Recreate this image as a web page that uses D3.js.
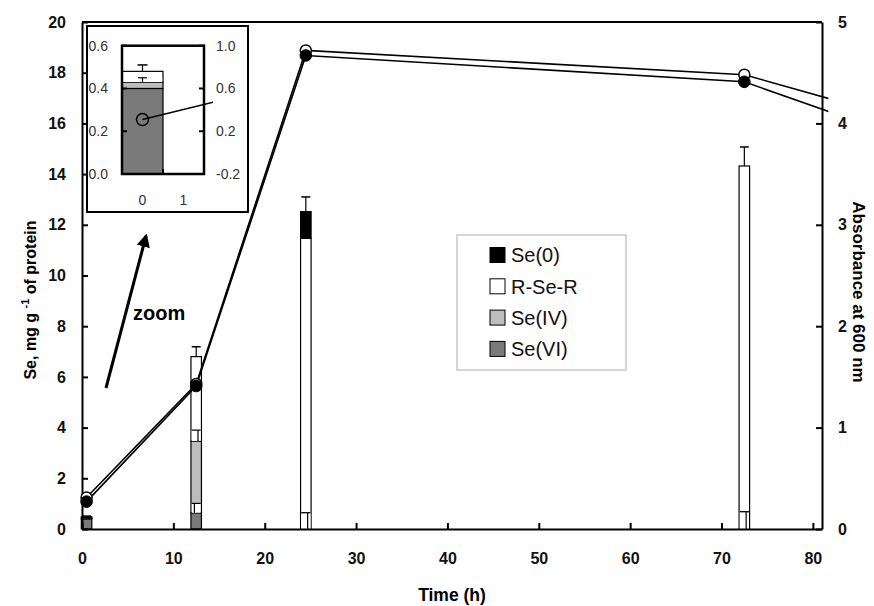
<!DOCTYPE html>
<html><head><meta charset="utf-8">
<script src="https://cdn.jsdelivr.net/npm/d3@7"></script>
<style>
body{margin:0;background:#fff}
svg text{font-family:"Liberation Sans",Arial,sans-serif}
</style></head>
<body><svg id="c" width="874" height="606"></svg>
<script>
// ---- data ----
const times = [0, 12, 24, 72];
const seVI  = [0.40, 0.64, 0.00, 0.00];
const seIV  = [0.03, 2.83, 0.00, 0.00];
const rseR  = [0.05, 3.33, 11.47, 14.32];
const se0   = [0.00, 0.00, 1.05, 0.00];
const errVI = [0.00, 0.37, 0.64, 0.68];
const errIV = [0.02, 0.43, 0.64, 0.68];
const errTop = [0.03, 0.39, 0.58, 0.75];
const absTimes  = [0, 12, 24, 72, 96];
const absOpen   = [0.31, 1.43, 4.72, 4.48, 3.87];
const absFilled = [0.27, 1.41, 4.67, 4.41, 3.65];
const xTicks = [0, 10, 20, 30, 40, 50, 60, 70, 80];
const yLeftTicks = [0, 2, 4, 6, 8, 10, 12, 14, 16, 18, 20];
const yRightTicks = [0, 1, 2, 3, 4, 5];
const insetLeftTicks = [0.0, 0.2, 0.4, 0.6];
const insetRightTicks = [-0.2, 0.2, 0.6, 1.0];
const insetCats = ["0", "1"];
const keys = ["Se(VI)", "Se(IV)", "R-Se-R", "Se(0)"];
const colors = {"Se(0)": "#000000", "R-Se-R": "#ffffff", "Se(IV)": "#bdbdbd", "Se(VI)": "#7a7a7a"};
const legendOrder = ["Se(0)", "R-Se-R", "Se(IV)", "Se(VI)"];

const rows = times.map((t, i) => ({t, "Se(VI)": seVI[i], "Se(IV)": seIV[i], "R-Se-R": rseR[i], "Se(0)": se0[i],
  errVI: errVI[i], errIV: errIV[i], errTop: errTop[i]}));

const svg = d3.select("#c");
const x = d3.scaleLinear().domain([0, 81]).range([82, 822]);
const yL = d3.scaleLinear().domain([0, 20]).range([529, 22]);
const yR = d3.scaleLinear().domain([0, 5]).range([529, 22]);
const off = 0.5;     // marks sit half an hour right of the time value
const barW = 1.15;   // bar width in hours
const bx = t => x(t + off - barW / 2);
const bw = x(barW) - x(0);

// bars
const stack = d3.stack().keys(keys)(rows);
const gBars = svg.append("g");
stack.forEach(layer => {
  gBars.selectAll(null).data(layer).join("rect")
    .attr("x", d => bx(d.data.t)).attr("width", bw)
    .attr("y", d => yL(d[1])).attr("height", d => yL(d[0]) - yL(d[1]))
    .attr("fill", colors[layer.key]).attr("stroke", "#000").attr("stroke-width", 1.2);
});
// lower-segment error bars (knock-out + whisker)
function lowerErr(g, rowsArr, xs, ys, layerIdx, errKey, dx, bwid) {
  rowsArr.forEach((r, i) => {
    const top = stack[layerIdx][i][1];
    const e = r[errKey];
    if (e <= 0) return;
    g.append("rect").attr("x", xs(r) - bwid / 2 + 0.8).attr("width", bwid - 1.6)
      .attr("y", ys(top + e)).attr("height", ys(top) - ys(top + e)).attr("fill", "#fff");
  });
  rowsArr.forEach((r, i) => {
    const top = stack[layerIdx][i][1];
    const e = r[errKey];
    if (e <= 0) return;
    const cx = xs(r) + dx;
    g.append("line").attr("x1", cx).attr("x2", cx).attr("y1", ys(top)).attr("y2", ys(top + e))
      .attr("stroke", "#000").attr("stroke-width", 1.2);
    g.append("line").attr("x1", xs(r) - 4.5).attr("x2", xs(r) + 4.5).attr("y1", ys(top + e)).attr("y2", ys(top + e))
      .attr("stroke", "#000").attr("stroke-width", 1.2);
  });
}
const cxMain = r => x(r.t + off);
lowerErr(gBars, rows, cxMain, yL, 0, "errVI", -1.8, bw);
lowerErr(gBars, rows, cxMain, yL, 1, "errIV", 1.8, bw);
// top error bars
rows.forEach((r, i) => {
  const top = stack[3][i][1];
  const c = cxMain(r);
  gBars.append("line").attr("x1", c).attr("x2", c).attr("y1", yL(top)).attr("y2", yL(top + r.errTop)).attr("stroke", "#000").attr("stroke-width", 1.2);
  gBars.append("line").attr("x1", c - 4.5).attr("x2", c + 4.5).attr("y1", yL(top + r.errTop)).attr("y2", yL(top + r.errTop)).attr("stroke", "#000").attr("stroke-width", 1.5);
});

// axes
const axB = svg.append("g").attr("transform", "translate(0,529)")
  .call(d3.axisBottom(x).tickValues(xTicks).tickSize(-6).tickSizeOuter(0).tickPadding(24).tickFormat(d3.format("d")));
const axL = svg.append("g").attr("transform", "translate(82,0)")
  .call(d3.axisLeft(yL).tickValues(yLeftTicks).tickSize(-6).tickSizeOuter(0).tickPadding(16).tickFormat(d3.format("d")));
const axR = svg.append("g").attr("transform", "translate(822,0)")
  .call(d3.axisRight(yR).tickValues(yRightTicks).tickSize(-6).tickSizeOuter(0).tickPadding(16).tickFormat(d3.format("d")));
[axB, axL, axR].forEach(a => {
  a.select(".domain").attr("stroke", "#000").attr("stroke-width", 2);
  a.selectAll(".tick line").attr("stroke", "#000").attr("stroke-width", 2);
  a.selectAll(".tick text").attr("font-size", 16).attr("font-weight", "bold").attr("fill", "#111")
   .style("font-family", '"Liberation Sans",Arial,sans-serif');
});
svg.append("line").attr("x1", x(0)).attr("x2", x(81)).attr("y1", yL(20)).attr("y2", yL(20)).attr("stroke", "#000").attr("stroke-width", 2);

// absorbance lines
svg.append("clipPath").attr("id", "clipMain").append("rect")
  .attr("x", x(0) - 10).attr("y", 0).attr("width", x(81.7) - x(0) + 10).attr("height", 606);
const lineMain = d3.line().x(d => x(d[0] + off)).y(d => yR(d[1]));
const gLines = svg.append("g").attr("clip-path", "url(#clipMain)");
const openPts = absTimes.map((t, i) => [t, absOpen[i]]);
const filledPts = absTimes.map((t, i) => [t, absFilled[i]]);
gLines.append("path").attr("d", lineMain(openPts)).attr("fill", "none").attr("stroke", "#000").attr("stroke-width", 1.6);
gLines.append("path").attr("d", lineMain(filledPts)).attr("fill", "none").attr("stroke", "#000").attr("stroke-width", 1.6);
gLines.selectAll(".o").data(openPts).join("circle").attr("cx", d => x(d[0] + off)).attr("cy", d => yR(d[1]))
  .attr("r", 5.5).attr("fill", "#fff").attr("stroke", "#000").attr("stroke-width", 1.5);
gLines.selectAll(".f").data(filledPts).join("circle").attr("cx", d => x(d[0] + off)).attr("cy", d => yR(d[1]))
  .attr("r", 5.8).attr("fill", "#000").attr("stroke", "#000").attr("stroke-width", 1);

// axis titles
svg.append("text").attr("transform", "translate(452,601)").attr("text-anchor", "middle")
  .attr("font-size", 17.5).attr("font-weight", "bold").text("Time (h)");
const lt = svg.append("text").attr("transform", "translate(36,300) rotate(-90)").attr("text-anchor", "middle")
  .attr("font-size", 16).attr("font-weight", "bold");
lt.append("tspan").text("Se, mg g ");
lt.append("tspan").attr("font-size", 11).attr("dy", -7).text("-1");
lt.append("tspan").attr("dy", 7).text(" of protein");
svg.append("text").attr("transform", "translate(853,292) rotate(90)").attr("text-anchor", "middle")
  .attr("font-size", 17).attr("font-weight", "bold").text("Absorbance at 600 nm");

// legend
const lg = svg.append("g");
lg.append("rect").attr("x", 457).attr("y", 235).attr("width", 169).attr("height", 135)
  .attr("fill", "#fff").attr("stroke", "#bbb").attr("stroke-width", 1.2);
legendOrder.forEach((k, i) => {
  const cy = 255 + i * 31.3;
  lg.append("rect").attr("x", 490).attr("y", cy - 7.5).attr("width", 15).attr("height", 15)
    .attr("fill", colors[k]).attr("stroke", "#000").attr("stroke-width", 1);
  lg.append("text").attr("x", 511).attr("y", cy).attr("dy", "0.36em").attr("font-size", 20).attr("fill", "#111").text(k);
});

// zoom arrow
svg.append("defs").append("marker").attr("id", "ah").attr("viewBox", "0 0 10 10").attr("refX", 8).attr("refY", 5)
  .attr("markerWidth", 4.5).attr("markerHeight", 4.5).attr("orient", "auto")
  .append("path").attr("d", "M0,0 L10,5 L0,10 z").attr("fill", "#000");
svg.append("line").attr("x1", 106).attr("y1", 388).attr("x2", 146).attr("y2", 236)
  .attr("stroke", "#000").attr("stroke-width", 3).attr("marker-end", "url(#ah)");
svg.append("text").attr("x", 133).attr("y", 320).attr("font-size", 20).attr("font-weight", "bold").text("zoom");

// inset
const gi = svg.append("g");
gi.append("rect").attr("x", 87).attr("y", 26).attr("width", 161).attr("height", 186)
  .attr("fill", "#fff").attr("stroke", "#000").attr("stroke-width", 2);
const ix = d3.scaleLinear().domain([-0.5, 1.5]).range([122, 204]);
const iyL = d3.scaleLinear().domain([0, 0.6]).range([174, 45.7]);
const iyR = d3.scaleLinear().domain([-0.2, 1.0]).range([174, 45.7]);
const insetRow = [rows[0]];
const ibw = ix(1) - ix(0);
stack.forEach(layer => {
  const d = layer[0];
  gi.append("rect").attr("x", ix(0) - ibw / 2).attr("width", ibw)
    .attr("y", iyL(d[1])).attr("height", iyL(d[0]) - iyL(d[1]))
    .attr("fill", colors[layer.key]).attr("stroke", "#000").attr("stroke-width", 1.2);
});
const cxIn = r => ix(0);
lowerErr(gi, insetRow, cxIn, iyL, 0, "errVI", 0, ibw);
lowerErr(gi, insetRow, cxIn, iyL, 1, "errIV", 0, ibw);
{
  const top = stack[3][0][1], e = rows[0].errTop, c = ix(0);
  gi.append("line").attr("x1", c).attr("x2", c).attr("y1", iyL(top)).attr("y2", iyL(top + e)).attr("stroke", "#000").attr("stroke-width", 1.2);
  gi.append("line").attr("x1", c - 5).attr("x2", c + 5).attr("y1", iyL(top + e)).attr("y2", iyL(top + e)).attr("stroke", "#000").attr("stroke-width", 1.5);
}
// inset frame and ticks
gi.append("rect").attr("x", ix(-0.5)).attr("y", iyL(0.6)).attr("width", ix(1.5) - ix(-0.5)).attr("height", iyL(0) - iyL(0.6))
  .attr("fill", "none").attr("stroke", "#000").attr("stroke-width", 2.5);
insetLeftTicks.forEach(v => {
  gi.append("line").attr("x1", ix(-0.5)).attr("x2", ix(-0.5) + 5).attr("y1", iyL(v)).attr("y2", iyL(v)).attr("stroke", "#000").attr("stroke-width", 2);
  gi.append("text").attr("x", ix(-0.5) - 14).attr("y", iyL(v)).attr("dy", "0.35em").attr("text-anchor", "end")
    .attr("font-size", 14).attr("fill", "#333").text(v.toFixed(1));
});
insetRightTicks.forEach(v => {
  gi.append("line").attr("x1", ix(1.5)).attr("x2", ix(1.5) - 5).attr("y1", iyR(v)).attr("y2", iyR(v)).attr("stroke", "#000").attr("stroke-width", 2);
  gi.append("text").attr("x", ix(1.5) + 12).attr("y", iyR(v)).attr("dy", "0.35em").attr("text-anchor", "start")
    .attr("font-size", 14).attr("fill", "#333").text(v.toFixed(1));
});
gi.append("line").attr("x1", ix(0.5)).attr("x2", ix(0.5)).attr("y1", iyL(0)).attr("y2", iyL(0) - 5).attr("stroke", "#000").attr("stroke-width", 2);
insetCats.forEach((c, i) => {
  gi.append("text").attr("x", ix(i)).attr("y", 205).attr("text-anchor", "middle").attr("font-size", 14).attr("fill", "#333").text(c);
});
// inset absorbance line
svg.append("clipPath").attr("id", "clipIn").append("rect")
  .attr("x", ix(-0.5)).attr("y", 26).attr("width", ix(1.72) - ix(-0.5)).attr("height", 186);
const lineIn = d3.line().x(d => ix(d[0])).y(d => iyR(d[1]));
const gil = gi.append("g").attr("clip-path", "url(#clipIn)");
gil.append("path").attr("d", lineIn(openPts)).attr("fill", "none").attr("stroke", "#000").attr("stroke-width", 1.5);
gil.append("circle").attr("cx", ix(openPts[0][0])).attr("cy", iyR(openPts[0][1])).attr("r", 6)
  .attr("fill", "none").attr("stroke", "#000").attr("stroke-width", 1.5);
</script></body></html>
